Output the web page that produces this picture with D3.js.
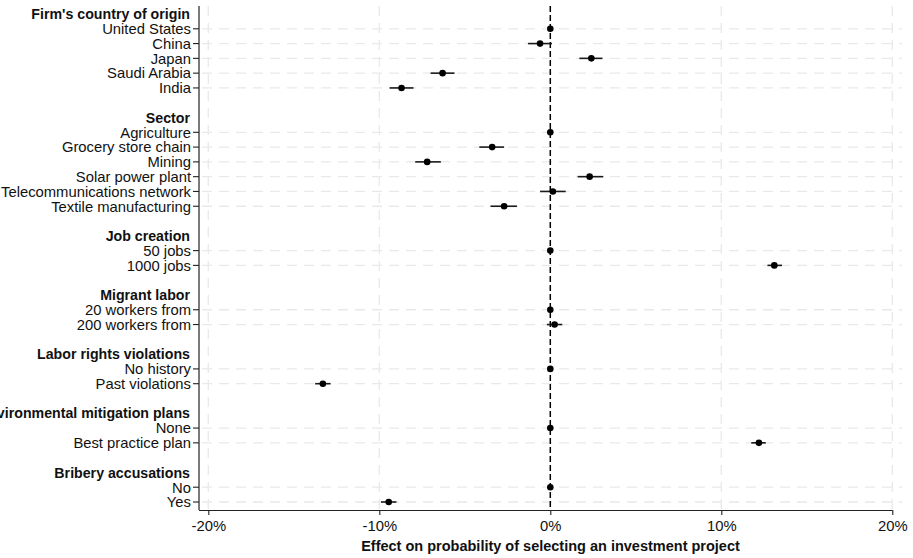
<!DOCTYPE html>
<html>
<head>
<meta charset="utf-8">
<script src="https://cdn.jsdelivr.net/npm/d3@7"></script>
<style>
  body { margin: 0; background: #fff; }
  text { font-family: "Liberation Sans", Arial, sans-serif; }
</style>
</head>
<body>
<div class="container"></div>
<script>
(function(){

// attribute headers and their levels
var groups = ["Firm's country of origin", "Sector", "Job creation", "Migrant labor",
  "Labor rights violations", "Environmental mitigation plans", "Bribery accusations"];

var levels = [
  ["United States", "China", "Japan", "Saudi Arabia", "India"],
  ["Agriculture", "Grocery store chain", "Mining", "Solar power plant", "Telecommunications network", "Textile manufacturing"],
  ["50 jobs", "1000 jobs"],
  ["20 workers from", "200 workers from"],
  ["No history", "Past violations"],
  ["None", "Best practice plan"],
  ["No", "Yes"]
];

// estimates in percentage points, with 95% intervals
var estimates = [
  [0, -0.6, 2.4, -6.3, -8.7],
  [0, -3.4, -7.2, 2.3, 0.15, -2.7],
  [0, 13.1],
  [0, 0.25],
  [0, -13.3],
  [0, 12.2],
  [0, -9.45]
];
var lower = [
  [0, -1.3, 1.7, -7.0, -9.4],
  [0, -4.15, -7.9, 1.6, -0.6, -3.5],
  [0, 12.7],
  [0, -0.2],
  [0, -13.75],
  [0, 11.75],
  [0, -9.9]
];
var upper = [
  [0, 0.1, 3.05, -5.6, -8.0],
  [0, -2.7, -6.4, 3.1, 0.9, -1.95],
  [0, 13.55],
  [0, 0.7],
  [0, -12.85],
  [0, 12.6],
  [0, -9.0]
];

var xTicks = [-20, -10, 0, 10, 20];

var width = 913,
    height = 558,
    plotLeft = 199,
    plotRight = 902,
    plotTop = 6,
    plotBottom = 510,
    labelSize = "14.8px";

// build slot list: header, levels, blank
var rows = [];
var slot = 0;
groups.forEach(function(g, gi){
  rows.push({type: "header", label: g, slot: slot++});
  levels[gi].forEach(function(l, li){
    rows.push({type: "level", label: l, slot: slot++,
      est: estimates[gi][li], lo: lower[gi][li], hi: upper[gi][li]});
  });
  slot++;
});
var lastSlot = slot - 2;

var x = d3.scaleLinear()
  .domain([-20, 20])
  .range([208.3, 892.3]);

var y = d3.scaleLinear()
  .domain([0, lastSlot])
  .range([14, 502]);

var svg = d3.select(".container")
  .append("svg")
  .attr("width", width)
  .attr("height", height);

var levelRows = rows.filter(function(d){ return d.type == "level"; });
var headerRows = rows.filter(function(d){ return d.type == "header"; });

// horizontal dashed gridlines
svg.selectAll(".hgrid")
  .data(levelRows)
  .enter()
  .append("line")
  .attr("class", "hgrid")
  .attr("x1", plotLeft + 3)
  .attr("x2", plotRight)
  .attr("y1", function(d){ return y(d.slot); })
  .attr("y2", function(d){ return y(d.slot); })
  .attr("stroke", "#e9e9e9")
  .attr("stroke-width", 1.3)
  .attr("stroke-dasharray", "10,7");

// vertical dashed gridlines
svg.selectAll(".vgrid")
  .data(xTicks.filter(function(t){ return t != 0; }))
  .enter()
  .append("line")
  .attr("class", "vgrid")
  .attr("x1", function(d){ return x(d); })
  .attr("x2", function(d){ return x(d); })
  .attr("y1", plotTop)
  .attr("y2", plotBottom)
  .attr("stroke", "#e9e9e9")
  .attr("stroke-width", 1.3)
  .attr("stroke-dasharray", "10,7");

// zero reference line
svg.append("line")
  .attr("x1", x(0))
  .attr("x2", x(0))
  .attr("y1", plotTop)
  .attr("y2", plotBottom)
  .attr("stroke", "#000")
  .attr("stroke-width", 1.5)
  .attr("stroke-dasharray", "6,3");

// confidence intervals
svg.selectAll(".ci")
  .data(levelRows)
  .enter()
  .append("line")
  .attr("class", "ci")
  .attr("x1", function(d){ return x(d.lo); })
  .attr("x2", function(d){ return x(d.hi); })
  .attr("y1", function(d){ return y(d.slot); })
  .attr("y2", function(d){ return y(d.slot); })
  .attr("stroke", "#1a1a1a")
  .attr("stroke-width", 1.6);

// point estimates
svg.selectAll(".dot")
  .data(levelRows)
  .enter()
  .append("circle")
  .attr("class", "dot")
  .attr("cx", function(d){ return x(d.est); })
  .attr("cy", function(d){ return y(d.slot); })
  .attr("r", 3.3)
  .attr("fill", "#000");

// left axis line and ticks
svg.append("line")
  .attr("x1", plotLeft)
  .attr("x2", plotLeft)
  .attr("y1", plotTop)
  .attr("y2", plotBottom)
  .attr("stroke", "#222")
  .attr("stroke-width", 1.2);

svg.selectAll(".ytick")
  .data(levelRows)
  .enter()
  .append("line")
  .attr("class", "ytick")
  .attr("x1", plotLeft - 6)
  .attr("x2", plotLeft)
  .attr("y1", function(d){ return y(d.slot); })
  .attr("y2", function(d){ return y(d.slot); })
  .attr("stroke", "#222")
  .attr("stroke-width", 1.1);

svg.selectAll(".ylab")
  .data(levelRows)
  .enter()
  .append("text")
  .attr("class", "ylab")
  .attr("x", plotLeft - 8)
  .attr("y", function(d){ return y(d.slot); })
  .attr("dy", "0.36em")
  .attr("text-anchor", "end")
  .attr("font-size", labelSize)
  .attr("fill", "#111")
  .text(function(d){ return d.label; });

svg.selectAll(".yhead")
  .data(headerRows)
  .enter()
  .append("text")
  .attr("class", "yhead")
  .attr("x", plotLeft - 9)
  .attr("y", function(d){ return y(d.slot); })
  .attr("dy", "0.36em")
  .attr("text-anchor", "end")
  .attr("font-size", "14.2px")
  .attr("font-weight", "bold")
  .attr("fill", "#111")
  .text(function(d){ return d.label; });

// bottom axis
var xAxis = d3.axisBottom(x)
  .tickValues(xTicks)
  .tickSize(5)
  .tickPadding(5)
  .tickFormat(function(d){ return d + "%"; });

var axis = svg.append("g")
  .attr("class", "axis")
  .attr("transform", "translate(0," + plotBottom + ")")
  .call(xAxis);

axis.select(".domain")
  .attr("d", "M" + plotLeft + ",0.5H" + x(20))
  .attr("stroke", "#222")
  .attr("stroke-width", 1.2);

axis.selectAll(".tick line")
  .attr("stroke", "#222")
  .attr("stroke-width", 1.1);

axis.selectAll(".tick text")
  .attr("font-size", labelSize)
  .attr("font-family", "Liberation Sans, Arial, sans-serif")
  .attr("fill", "#111");

svg.append("text")
  .attr("x", (plotLeft + plotRight) / 2)
  .attr("y", 551)
  .attr("text-anchor", "middle")
  .attr("font-size", "14.5px")
  .attr("font-weight", "bold")
  .attr("fill", "#111")
  .text("Effect on probability of selecting an investment project");

})();
</script>
</body>
</html>
